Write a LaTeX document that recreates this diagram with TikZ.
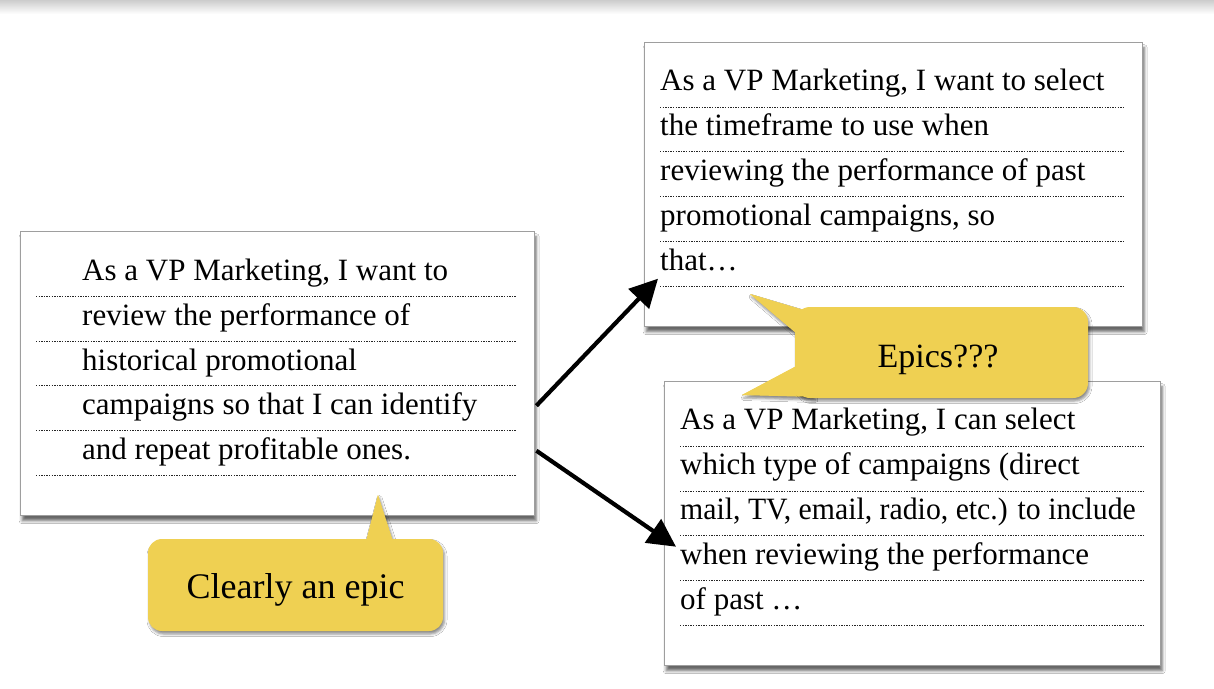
\documentclass[tikz,border=0pt]{standalone}
\usepackage{fontspec}
\setmainfont{Liberation Serif}
\usetikzlibrary{arrows.meta,shadows.blur}
\definecolor{calloutyellow}{RGB}{239,208,82}
\definecolor{cardborder}{RGB}{158,158,158}
\begin{document}
\begin{tikzpicture}[x=1pt,y=-1pt,
  card/.style={draw=cardborder, line width=1.4pt, fill=white, anchor=north west, inner sep=0pt,
    blur shadow={shadow xshift=1.5pt, shadow yshift=-5pt, shadow blur radius=3pt, shadow opacity=60}},
  txt/.style={anchor=base west, inner sep=0pt, font=\fontsize{31}{36}\selectfont},
  dotline/.style={draw=black!85, line width=1pt, dash pattern=on 1.3pt off 1.3pt},
  yel/.style={fill=calloutyellow,
    blur shadow={shadow xshift=1.5pt, shadow yshift=-3pt, shadow blur radius=2.5pt, shadow opacity=45}},
  ctext/.style={anchor=base, inner sep=0pt},
  arr/.style={draw=black, line width=4.2pt, -{Triangle[length=28pt,width=28pt]}}
]
\useasboundingbox (0,0) rectangle (1214,688);
\fill[white] (0,0) rectangle (1214,688);
\shade[top color=black!20, bottom color=white] (0,0) rectangle (1214,14);

% cards
\node[card, minimum width=514pt, minimum height=284pt] (left) at (20,231) {};
\node[card, minimum width=498pt, minimum height=284pt] (top) at (644,42) {};
\node[card, minimum width=496pt, minimum height=284pt] (bot) at (664,381) {};

% left card text
\foreach \y in {296,341,385,430,475} \draw[dotline] (36,\y) -- (516,\y);
\node[txt] (l1) at (82,280) {As a VP Marketing, I want to};
\node[txt] (l2) at (82,325) {review the performance of};
\node[txt] (l3) at (82,370) {historical promotional};
\node[txt] (l4) at (82,414) {campaigns so that I can identify};
\node[txt] (l5) at (82,459) {and repeat profitable ones.};

% top card text
\foreach \y in {107,151,196,241,286} \draw[dotline] (660,\y) -- (1124,\y);
\node[txt] (t1) at (660,90) {As a VP Marketing, I want to select};
\node[txt] (t2) at (660,135) {the timeframe to use when};
\node[txt] (t3) at (660,180) {reviewing the performance of past};
\node[txt] (t4) at (660,225) {promotional campaigns, so};
\node[txt] (t5) at (660,270) {that…};

% bottom card text
\foreach \y in {446,491,535,580,625} \draw[dotline] (680,\y) -- (1143,\y);
\node[txt] (b1) at (680,429) {As a VP Marketing, I can select};
\node[txt] (b2) at (680,474) {which type of campaigns (direct};
\node[txt] (b3) at (680,519) {\scalebox{0.96}[1]{mail, TV, email, radio, etc.) to include}};
\node[txt] (b4) at (680,564) {when reviewing the performance};
\node[txt] (b5) at (680,609) {of past …};

% arrows
\coordinate (a1s) at ([xshift=1pt,yshift=-32pt]left.east);
\coordinate (a2s) at ([xshift=1pt,yshift=-77pt]left.east);
\coordinate (a1e) at ([xshift=14pt,yshift=-94pt]top.west);
\coordinate (a2e) at ([xshift=12pt,yshift=-23pt]bot.west);
\draw[arr] (a1s) -- (a1e);
\draw[arr] (a2s) -- (a2e);

% callout: Clearly an epic
\fill[yel] (366,541) -- (378,495) -- (393,541) -- cycle;
\fill[yel, rounded corners=14pt] (148,539) rectangle (443,631);
\fill[calloutyellow] (366,545) -- (378,495) -- (393,545) -- cycle;
\node[ctext, font=\fontsize{36}{40}\selectfont] (c1) at (295.5,598) {Clearly an epic};

% callout: Epics???
\fill[yel] (804,310) -- (750,294) -- (797,334) -- cycle;
\fill[yel] (797,366) -- (742,395) -- (814,397) -- cycle;
\fill[yel, rounded corners=15pt] (795,307) rectangle (1088,398);
\fill[calloutyellow] (808,312) -- (750,294) -- (800,336) -- cycle;
\fill[calloutyellow] (800,364) -- (742,395) -- (816,396) -- cycle;
\node[ctext, font=\fontsize{34}{38}\selectfont] (c2) at (938,367) {Epics???};
\end{tikzpicture}
\end{document}
